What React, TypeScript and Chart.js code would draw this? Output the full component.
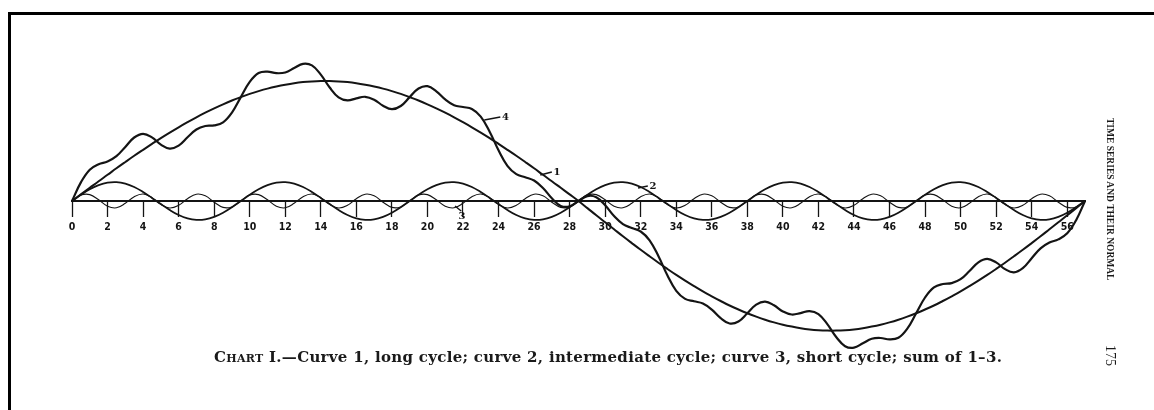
import React, { useEffect, useRef } from "react";
import { Chart, registerables } from "chart.js";

Chart.register(...registerables);

// Sample positions along the time axis (half-unit steps)
const xPositions = [
  0, 0.5, 1, 1.5, 2, 2.5, 3, 3.5, 4, 4.5, 5, 5.5, 6, 6.5, 7, 7.5, 8, 8.5, 9, 9.5,
  10, 10.5, 11, 11.5, 12, 12.5, 13, 13.5, 14, 14.5, 15, 15.5, 16, 16.5, 17, 17.5, 18, 18.5, 19, 19.5,
  20, 20.5, 21, 21.5, 22, 22.5, 23, 23.5, 24, 24.5, 25, 25.5, 26, 26.5, 27, 27.5, 28, 28.5, 29, 29.5,
  30, 30.5, 31, 31.5, 32, 32.5, 33, 33.5, 34, 34.5, 35, 35.5, 36, 36.5, 37, 37.5, 38, 38.5, 39, 39.5,
  40, 40.5, 41, 41.5, 42, 42.5, 43, 43.5, 44, 44.5, 45, 45.5, 46, 46.5, 47, 47.5, 48, 48.5, 49, 49.5,
  50, 50.5, 51, 51.5, 52, 52.5, 53, 53.5, 54, 54.5, 55, 55.5, 56, 56.5, 57,
];

const tickValues = [0, 2, 4, 6, 8, 10, 12, 14, 16, 18, 20, 22, 24, 26, 28, 30, 32, 34, 36, 38, 40, 42, 44, 46, 48, 50, 52, 54, 56];

// Curve 1, long cycle
const curve1 = [
  0, 6.6, 13.2, 19.8, 26.2, 32.7, 39.0, 45.2, 51.2, 57.1, 62.9, 68.4, 73.7, 78.8, 83.7, 88.3, 92.6, 96.7, 100.5, 103.9,
  107.1, 109.9, 112.4, 114.5, 116.3, 117.8, 118.9, 119.6, 120.0, 120.0, 119.6, 118.9, 117.8, 116.3, 114.5, 112.4, 109.9, 107.1, 103.9, 100.5,
  96.7, 92.6, 88.3, 83.7, 78.8, 73.7, 68.4, 62.9, 57.1, 51.2, 45.2, 39.0, 32.7, 26.2, 19.8, 13.2, 6.6, 0,
  -7.1, -14.3, -21.3, -28.3, -35.3, -42.1, -48.8, -55.3, -61.7, -67.9, -73.9, -79.6, -85.1, -90.4, -95.3, -100.0, -104.5, -108.5, -112.2, -115.6,
  -118.7, -121.4, -123.7, -125.6, -127.2, -128.4, -129.2, -129.6, -129.6, -129.2, -128.4, -127.2, -125.6, -123.7, -121.4, -118.7, -115.6, -112.2, -108.5, -104.5,
  -100.0, -95.3, -90.4, -85.1, -79.6, -73.9, -67.9, -61.7, -55.3, -48.8, -42.1, -35.3, -28.3, -21.3, -14.3, -7.1, 0,
];

// Curve 2, intermediate cycle
const curve2 = [
  0, 6.2, 11.7, 15.9, 18.4, 18.9, 17.4, 14.0, 9.0, 3.1, -3.1, -9.0, -14.0, -17.4, -18.9, -18.4, -15.9, -11.7, -6.2,
  0, 6.2, 11.7, 15.9, 18.4, 18.9, 17.4, 14.0, 9.0, 3.1, -3.1, -9.0, -14.0, -17.4, -18.9, -18.4, -15.9, -11.7, -6.2,
  0, 6.2, 11.7, 15.9, 18.4, 18.9, 17.4, 14.0, 9.0, 3.1, -3.1, -9.0, -14.0, -17.4, -18.9, -18.4, -15.9, -11.7, -6.2,
  0, 6.2, 11.7, 15.9, 18.4, 18.9, 17.4, 14.0, 9.0, 3.1, -3.1, -9.0, -14.0, -17.4, -18.9, -18.4, -15.9, -11.7, -6.2,
  0, 6.2, 11.7, 15.9, 18.4, 18.9, 17.4, 14.0, 9.0, 3.1, -3.1, -9.0, -14.0, -17.4, -18.9, -18.4, -15.9, -11.7, -6.2,
  0, 6.2, 11.7, 15.9, 18.4, 18.9, 17.4, 14.0, 9.0, 3.1, -3.1, -9.0, -14.0, -17.4, -18.9, -18.4, -15.9, -11.7, -6.2,
  0,
];

// Curve 3, short cycle
const curve3 = [
  0, 5.9, 6.4, 1.2, -5.2, -6.8, -2.3, 4.3, 7.0, 3.3, -3.3, -7.0, -4.3, 2.3, 6.8, 5.2, -1.2, -6.4, -5.9,
  0, 5.9, 6.4, 1.2, -5.2, -6.8, -2.3, 4.3, 7.0, 3.3, -3.3, -7.0, -4.3, 2.3, 6.8, 5.2, -1.2, -6.4, -5.9,
  0, 5.9, 6.4, 1.2, -5.2, -6.8, -2.3, 4.3, 7.0, 3.3, -3.3, -7.0, -4.3, 2.3, 6.8, 5.2, -1.2, -6.4, -5.9,
  0, 5.9, 6.4, 1.2, -5.2, -6.8, -2.3, 4.3, 7.0, 3.3, -3.3, -7.0, -4.3, 2.3, 6.8, 5.2, -1.2, -6.4, -5.9,
  0, 5.9, 6.4, 1.2, -5.2, -6.8, -2.3, 4.3, 7.0, 3.3, -3.3, -7.0, -4.3, 2.3, 6.8, 5.2, -1.2, -6.4, -5.9,
  0, 5.9, 6.4, 1.2, -5.2, -6.8, -2.3, 4.3, 7.0, 3.3, -3.3, -7.0, -4.3, 2.3, 6.8, 5.2, -1.2, -6.4, -5.9,
  0,
];

// Curve 4, sum of 1-3
const curve4 = [
  0, 18.6, 31.3, 36.8, 39.5, 44.8, 54.1, 63.5, 67.2, 63.6, 56.4, 52.4, 55.4, 63.7, 71.5, 75.0, 75.6, 78.6, 88.4, 103.9,
  119.1, 128.0, 129.4, 127.8, 128.5, 132.9, 137.2, 135.6, 126.4, 113.5, 103.6, 100.6, 102.7, 104.2, 101.3, 95.3, 91.8, 95.0, 103.9, 112.5,
  114.8, 109.7, 101.6, 95.8, 94.0, 92.0, 84.4, 69.3, 50.7, 35.2, 26.9, 23.8, 20.5, 13.0, 2.7, -4.9, -5.4, 0,
  4.9, 3.8, -4.3, -15.1, -23.1, -27.0, -30.5, -39.3, -55.2, -74.3, -89.9, -97.9, -100.3, -102.5, -108.6, -117.1, -122.5, -120.5, -112.2, -103.6,
  -100.6, -104.3, -110.4, -113.5, -112.1, -110.1, -113.1, -123.1, -136.0, -145.2, -146.7, -142.3, -137.8, -137.0, -138.4, -136.8, -127.7, -112.2, -96.5, -86.4,
  -83.0, -82.1, -78.2, -70.0, -61.3, -57.8, -61.4, -68.1, -71.3, -67.1, -57.2, -47.4, -41.6, -38.4, -32.3, -19.2, 0,
];

// Curve number tags (data coordinates): leader line from -> to, text at
const curveTags = [
  { text: "4", from: [23.2, 81], to: [24.1, 84], at: [24.2, 84] },
  { text: "1", from: [26.35, 26], to: [27.0, 29], at: [27.1, 29] },
  { text: "2", from: [31.85, 13], to: [32.4, 15], at: [32.5, 15] },
  { text: "3", from: [21.55, -5], to: [21.9, -10], at: [21.75, -15] },
];

const INK = "#141414";

const tagPlugin = {
  id: "curveTags",
  afterDatasetsDraw(chart: any) {
    const { ctx } = chart;
    const xs = chart.scales.x;
    const ys = chart.scales.y;
    ctx.save();
    ctx.strokeStyle = INK;
    ctx.fillStyle = INK;
    ctx.lineWidth = 1.4;
    ctx.font = 'bold 10px "DejaVu Serif", serif';
    ctx.textBaseline = "middle";
    ctx.textAlign = "left";
    curveTags.forEach((t) => {
      ctx.beginPath();
      ctx.moveTo(xs.getPixelForValue(t.from[0]), ys.getPixelForValue(t.from[1]));
      ctx.lineTo(xs.getPixelForValue(t.to[0]), ys.getPixelForValue(t.to[1]));
      ctx.stroke();
      ctx.fillText(t.text, xs.getPixelForValue(t.at[0]), ys.getPixelForValue(t.at[1]));
    });
    ctx.restore();
  },
};

function toPoints(values: number[]) {
  return values.map((v, i) => ({ x: xPositions[i], y: v }));
}

export default function App() {
  const canvasRef = useRef<HTMLCanvasElement | null>(null);

  useEffect(() => {
    if (!canvasRef.current) return;
    const lineBase = {
      borderColor: INK,
      pointRadius: 0,
      fill: false,
      tension: 0.4,
      clip: 12,
    };
    const chart = new Chart(canvasRef.current, {
      type: "line",
      data: {
        datasets: [
          { ...lineBase, label: "Curve 1", data: toPoints(curve1), borderWidth: 2 },
          { ...lineBase, label: "Curve 2", data: toPoints(curve2), borderWidth: 1.8 },
          { ...lineBase, label: "Curve 3", data: toPoints(curve3), borderWidth: 1.1 },
          { ...lineBase, label: "Curve 4", data: toPoints(curve4), borderWidth: 2.2 },
        ],
      },
      options: {
        animation: false,
        responsive: true,
        maintainAspectRatio: false,
        layout: { padding: { left: 64, right: 69, top: 43, bottom: 41 } },
        plugins: { legend: { display: false }, tooltip: { enabled: false }, title: { display: false } },
        scales: {
          x: {
            type: "linear",
            min: 0,
            max: 57,
            position: { y: 0 } as any,
            afterFit: (s: any) => {
              s.height = 0;
            },
            afterBuildTicks: (s: any) => {
              s.ticks = tickValues.map((v) => ({ value: v }));
            },
            grid: {
              display: true,
              drawOnChartArea: false,
              drawTicks: true,
              tickLength: 15,
              tickColor: INK,
              tickWidth: 1.3,
            },
            border: { display: true, color: INK, width: 2 },
            ticks: {
              color: INK,
              autoSkip: false,
              maxRotation: 0,
              padding: 5,
              font: { family: '"DejaVu Sans Condensed", "DejaVu Sans", sans-serif', weight: "bold", size: 10.5 },
              callback: (v: any) => String(v),
            },
          },
          y: {
            type: "linear",
            min: -160,
            max: 150,
            display: false,
          },
        },
      },
      plugins: [tagPlugin],
    });
    return () => chart.destroy();
  }, []);

  return (
    <div style={{ position: "relative", width: 1146, height: 394, overflow: "hidden", background: "#fff" }}>
      <div
        style={{
          position: "fixed",
          left: 8,
          top: 12,
          right: -20,
          bottom: -20,
          borderLeft: "3px solid #000",
          borderTop: "3px solid #000",
          pointerEvents: "none",
        }}
      />
      <div style={{ position: "absolute", left: 0, top: 0, width: 1146, height: 394 }}>
        <canvas ref={canvasRef} />
      </div>
      <div
        style={{
          position: "absolute",
          left: 206,
          top: 340,
          fontFamily: '"DejaVu Serif", serif',
          fontWeight: "bold",
          fontSize: 15,
          letterSpacing: "0.3px",
          lineHeight: "19px",
          whiteSpace: "nowrap",
          color: "#1a1a1a",
        }}
      >
        <span style={{ fontVariant: "small-caps" }}>Chart</span> I.—Curve 1, long cycle; curve 2, intermediate cycle;
        curve 3, short cycle; sum of 1–3.
      </div>
      <div
        style={{
          position: "absolute",
          left: 1096,
          top: 110,
          writingMode: "vertical-rl",
          fontFamily: '"Liberation Serif", serif',
          fontWeight: "bold",
          fontSize: 9.5,
          lineHeight: "12px",
          whiteSpace: "nowrap",
          color: "#1a1a1a",
        }}
      >
        TIME SERIES AND THEIR NORMAL
      </div>
      <div
        style={{
          position: "absolute",
          left: 1095,
          top: 337,
          writingMode: "vertical-rl",
          fontFamily: '"Liberation Serif", serif',
          fontSize: 14,
          lineHeight: "14px",
          whiteSpace: "nowrap",
          color: "#1a1a1a",
        }}
      >
        175
      </div>
    </div>
  );
}
